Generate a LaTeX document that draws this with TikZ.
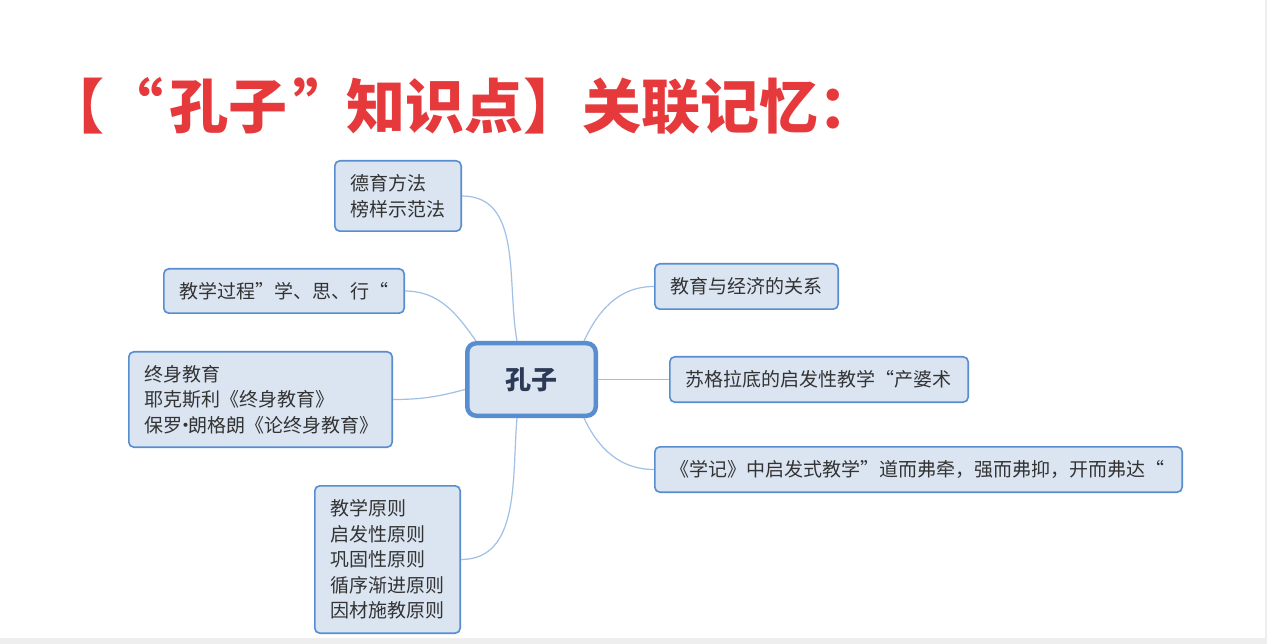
\documentclass[tikz,border=0pt]{standalone}
\usepackage{fontspec}
\setmainfont{Noto Sans CJK SC}
\definecolor{titleRed}{RGB}{229,57,60}
\definecolor{boxFill}{RGB}{219,229,242}
\definecolor{boxEdge}{RGB}{88,141,208}
\definecolor{linkBlue}{RGB}{160,192,230}
\definecolor{textGray}{RGB}{51,51,51}
\definecolor{rootText}{RGB}{45,58,85}
\definecolor{edgeGray}{RGB}{238,238,238}
\usepackage{tikz}
\usetikzlibrary{positioning,calc}
% full-width quotes and a narrow middle dot
\newcommand{\zhlq}{\makebox[1em][r]{“}}
\newcommand{\zhrq}{\makebox[1em][l]{”}}
\newcommand{\zhdot}{\makebox[0.3em]{·}}
\tikzset{
  topic/.style={draw=boxEdge, line width=1.6pt, fill=boxFill, rounded corners=5pt,
    inner xsep=16pt, inner ysep=0pt, align=left, text=textGray,
    font=\fontsize{19}{25.5}\selectfont},
  root/.style={draw=boxEdge, line width=4.5pt, fill=boxFill, rounded corners=9pt,
    minimum width=128.5pt, minimum height=72.5pt, text=rootText,
    font=\fontsize{26}{30}\selectfont\bfseries},
  link/.style={draw=linkBlue, line width=1.2pt},
  titletext/.style={text=titleRed, inner sep=0pt, font=\fontsize{59}{62}\selectfont\bfseries},
}

\begin{document}
\begin{tikzpicture}[x=1pt,y=-1pt]
    % page and its grey edges
    \useasboundingbox (0,0) rectangle (1267,644);
    \fill[white] (0,0) rectangle (1267,644);
    \fill[edgeGray] (0,638) rectangle (1267,644);
    \fill[edgeGray] (1265,0) rectangle (1267,644);

    % heading
    \node[titletext, anchor=west] (title) at (45,106)
      {【\hspace{6pt}\makebox[1em][r]{“\hspace{.1em}}孔子\makebox[1em][l]{\hspace{.1em}”}知识点】关联记忆：};

    % central topic
    \node[root] (root) at (531.5,379.5) {孔子};

    % left branches
    \node[topic, text width=94.4pt, minimum height=70.4pt] (deyu) at (398,196) {德育方法\\榜样示范法};
    \node[topic, text width=208.4pt, minimum height=44.4pt] (guocheng) at (284,291) {教学过程\zhrq 学、思、行\zhlq};
    \node[topic, text width=231.4pt, minimum height=95.4pt] (zhongshen) at (260.5,399.5) {终身教育\\耶克斯利《终身教育》\\保罗\zhdot 朗格朗《论终身教育》};
    \node[topic, text width=113.4pt, minimum height=147.4pt] (yuanze) at (387.5,559.5) {教学原则\\启发性原则\\巩固性原则\\循序渐进原则\\因材施教原则};

    % right branches
    \node[topic, text width=151.4pt, minimum height=45.4pt] (jingji) at (746.5,286.5) {教育与经济的关系};
    \node[topic, text width=266.4pt, minimum height=45.4pt] (sugeladi) at (819,379.5) {苏格拉底的启发性教学\zhlq 产婆术};
    \node[topic, text width=495.4pt, minimum height=45.4pt] (xueji) at (918.5,469.5) {《学记》中启发式教学\zhrq 道而弗牵，强而弗抑，开而弗达\makebox[1em]{“}};

    % where the links meet the central topic
    \coordinate (rtA) at ($(root.north)+(-14.5,0)$);
    \coordinate (rtB) at ($(root.north west)+(11,0)$);
    \coordinate (rtC) at ($(root.west)+(0,10)$);
    \coordinate (rtD) at ($(root.south)+(-14.5,0)$);
    \coordinate (rtE) at ($(root.north east)+(-14,0)$);
    \coordinate (rtF) at ($(root.south east)+(-14,0)$);

    % links
    \draw[link] (deyu.east) to[out=0,in=100] (rtA);
    \draw[link] (guocheng.east) to[out=0,in=125] (rtB);
    \draw[link] (zhongshen.east) to[out=0,in=195] (rtC);
    \draw[link] (yuanze.east) to[out=0,in=-95] (rtD);
    \draw[link] (rtE) to[out=65,in=180] (jingji.west);
    \draw[link] (root.east) -- (sugeladi.west);
    \draw[link] (rtF) to[out=-65,in=180] (xueji.west);
\end{tikzpicture}
\end{document}
